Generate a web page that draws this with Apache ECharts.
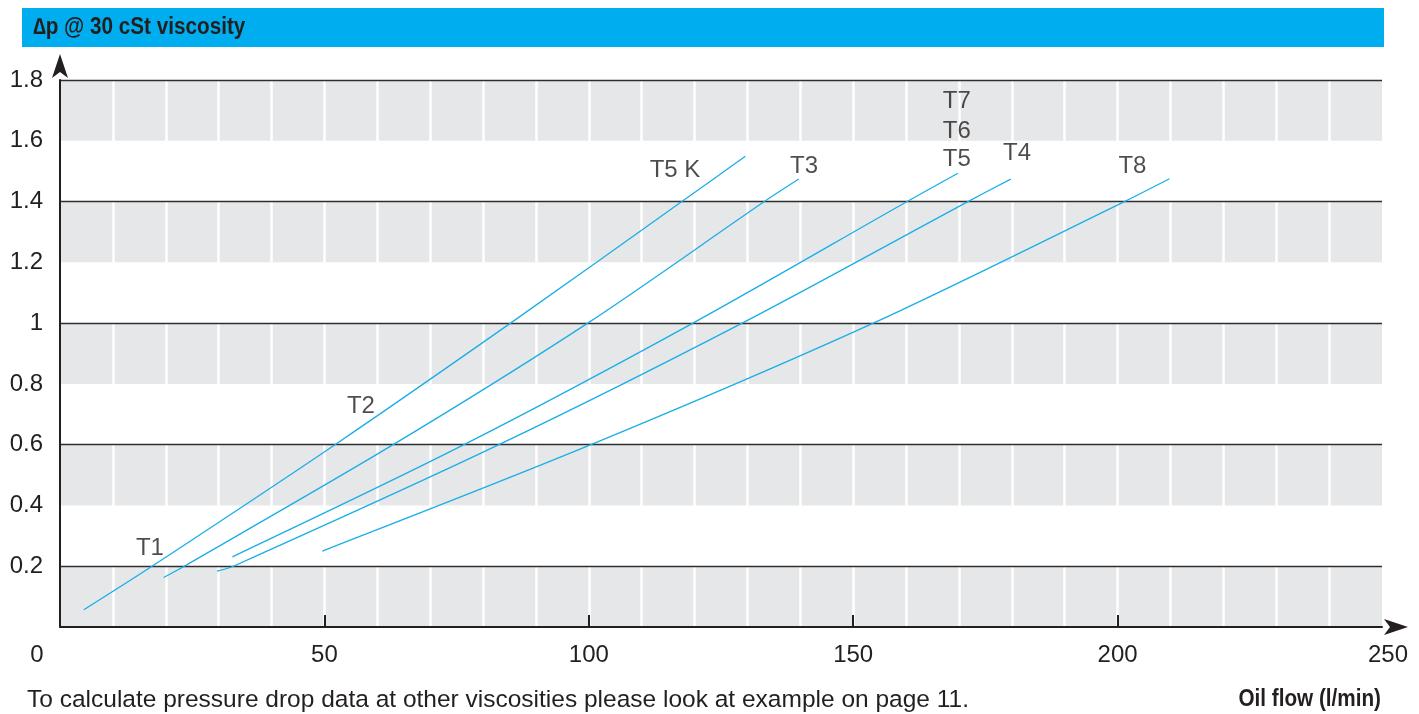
<!DOCTYPE html>
<html><head><meta charset="utf-8">
<script src="https://cdn.jsdelivr.net/npm/echarts@6/dist/echarts.min.js"></script>
<style>html,body{margin:0;padding:0;background:#fff}#c{width:1419px;height:714px}</style>
</head><body><div id="c"></div>
<script>
// ---- data ----
const xTickValues = [50, 100, 150, 200];
const seriesNames = ['T1 - T5 K', 'T2 - T3', 'T5 - T6 - T7', 'T4', 'T8'];
const lineT1T5K = [[4.5,0.057],[17.4,0.2],[52,0.6],[85.2,1.0],[117.6,1.4],[129.6,1.549]];
const lineT2T3  = [[19.6,0.163],[23.5,0.2],[63,0.6],[99.8,1.0],[133.2,1.4],[139.7,1.474]];
const lineT5T7  = [[32.6,0.231],[76.4,0.6],[119.7,1.0],[160.2,1.4],[169.8,1.493]];
const lineT4    = [[29.7,0.184],[32.8,0.2],[83,0.6],[129,1.0],[171.7,1.4],[179.8,1.474]];
const lineT8    = [[49.6,0.25],[100.4,0.6],[153.8,1.0],[201.3,1.4],[209.8,1.475]];
const labelTexts = ['T1', 'T2', 'T5 K', 'T3', 'T7', 'T6', 'T5', 'T4', 'T8'];
const labelX     = [17.0, 56.9, 116.3, 140.7, 169.6, 169.6, 169.6, 181.0, 202.8];
const labelY     = [0.259, 0.727, 1.502, 1.515, 1.731, 1.632, 1.538, 1.559, 1.515];
const titleText = '\u2206p @ 30 cSt viscosity';
const xAxisTitle = 'Oil flow (l/min)';
const noteText = 'To calculate pressure drop data at other viscosities please look at example on page 11.';

// ---- chart ----
const chart = echarts.init(document.getElementById('c'), null, {renderer: 'canvas'});
const lineColor = '#1aaee8';
const textColor = '#231f20';
const fontFam = '"Liberation Sans", Arial, Helvetica, sans-serif';
const seriesData = [lineT1T5K, lineT2T3, lineT5T7, lineT4, lineT8];
const series = seriesData.map((d, i) => ({
  name: seriesNames[i], type: 'line', data: d, smooth: 0.3, symbol: 'none',
  lineStyle: {color: lineColor, width: 1.3}, silent: true, z: 10
}));
series.push({
  type: 'scatter', symbolSize: 0, silent: true, z: 11,
  itemStyle: {color: textColor},
  data: labelTexts.map((t, i) => ({name: t, value: [labelX[i], labelY[i]]})),
  label: {show: true, position: 'inside', formatter: p => p.name,
          color: textColor, fontSize: 24, fontFamily: fontFam,
          textBorderWidth: 0, textBorderColor: 'transparent'}
});
const axisArrowLine = {color: '#231f20', width: 2};
chart.setOption({
  animation: false,
  grid: {left: 60, right: 37, top: 80, bottom: 87},
  xAxis: {
    type: 'value', min: 0, max: 250, interval: 50,
    axisLine: {show: true, lineStyle: axisArrowLine,
               symbol: ['none', 'arrow'], symbolSize: [12, 24], symbolOffset: [0, 26]},
    axisTick: {show: true, inside: true, length: 12, customValues: xTickValues,
               lineStyle: {color: '#231f20', width: 2}},
    axisLabel: {color: textColor, fontSize: 24, margin: 16, fontFamily: fontFam,
                formatter: v => v === 0 ? '{z|0}' : (v === 250 ? '{e|250}' : String(v)),
                rich: {z: {fontSize: 24, color: textColor, padding: [0, 46, 0, 0], fontFamily: fontFam},
                       e: {fontSize: 24, color: textColor, padding: [0, 0, 0, 12], fontFamily: fontFam}}},
    splitLine: {show: true, lineStyle: {color: '#ffffff', width: 2.5}},
    minorTick: {show: false, splitNumber: 5},
    minorSplitLine: {show: true, lineStyle: {color: '#ffffff', width: 2.5}},
    z: 2
  },
  yAxis: [{
    type: 'value', min: 0, max: 1.8, interval: 0.2,
    axisLine: {show: false},
    axisTick: {show: false},
    axisLabel: {color: textColor, fontSize: 24, margin: 17, showMinLabel: false,
                fontFamily: fontFam, padding: [8, 0, 0, 0]},
    splitLine: {show: false},
    splitArea: {show: true, areaStyle: {color: ['#e6e7e8', '#ffffff']}},
    z: 1
  }, {
    type: 'value', min: 0, max: 1.8, interval: 0.2, position: 'left',
    axisLine: {show: true, onZero: false, lineStyle: axisArrowLine,
               symbol: ['none', 'arrow'], symbolSize: [12, 24], symbolOffset: [0, 26]},
    axisTick: {show: false},
    axisLabel: {show: false},
    splitLine: {show: true, lineStyle: {color: ['rgba(0,0,0,0)', '#2f2f2f'], width: 1.3}},
    splitArea: {show: false},
    z: 3
  }],
  graphic: [
    {type: 'rect', left: 22, top: 8, shape: {width: 1362, height: 39}, style: {fill: '#00aeef'}, silent: true},
    {type: 'text', x: 33, y: 28, scaleX: 0.9, style: {text: titleText, fill: textColor, verticalAlign: 'middle',
      font: 'bold 23px "Liberation Sans", Arial, sans-serif'}, silent: true},
    {type: 'text', x: 27, y: 700, style: {text: noteText, fill: textColor, verticalAlign: 'middle',
      font: '24.5px "Liberation Sans", Arial, sans-serif'}, silent: true},
    {type: 'text', x: 1381, y: 700, scaleX: 0.9, style: {text: xAxisTitle, fill: textColor, align: 'right', verticalAlign: 'middle',
      font: 'bold 23px "Liberation Sans", Arial, sans-serif'}, silent: true}
  ],
  series: series
});
</script></body></html>
